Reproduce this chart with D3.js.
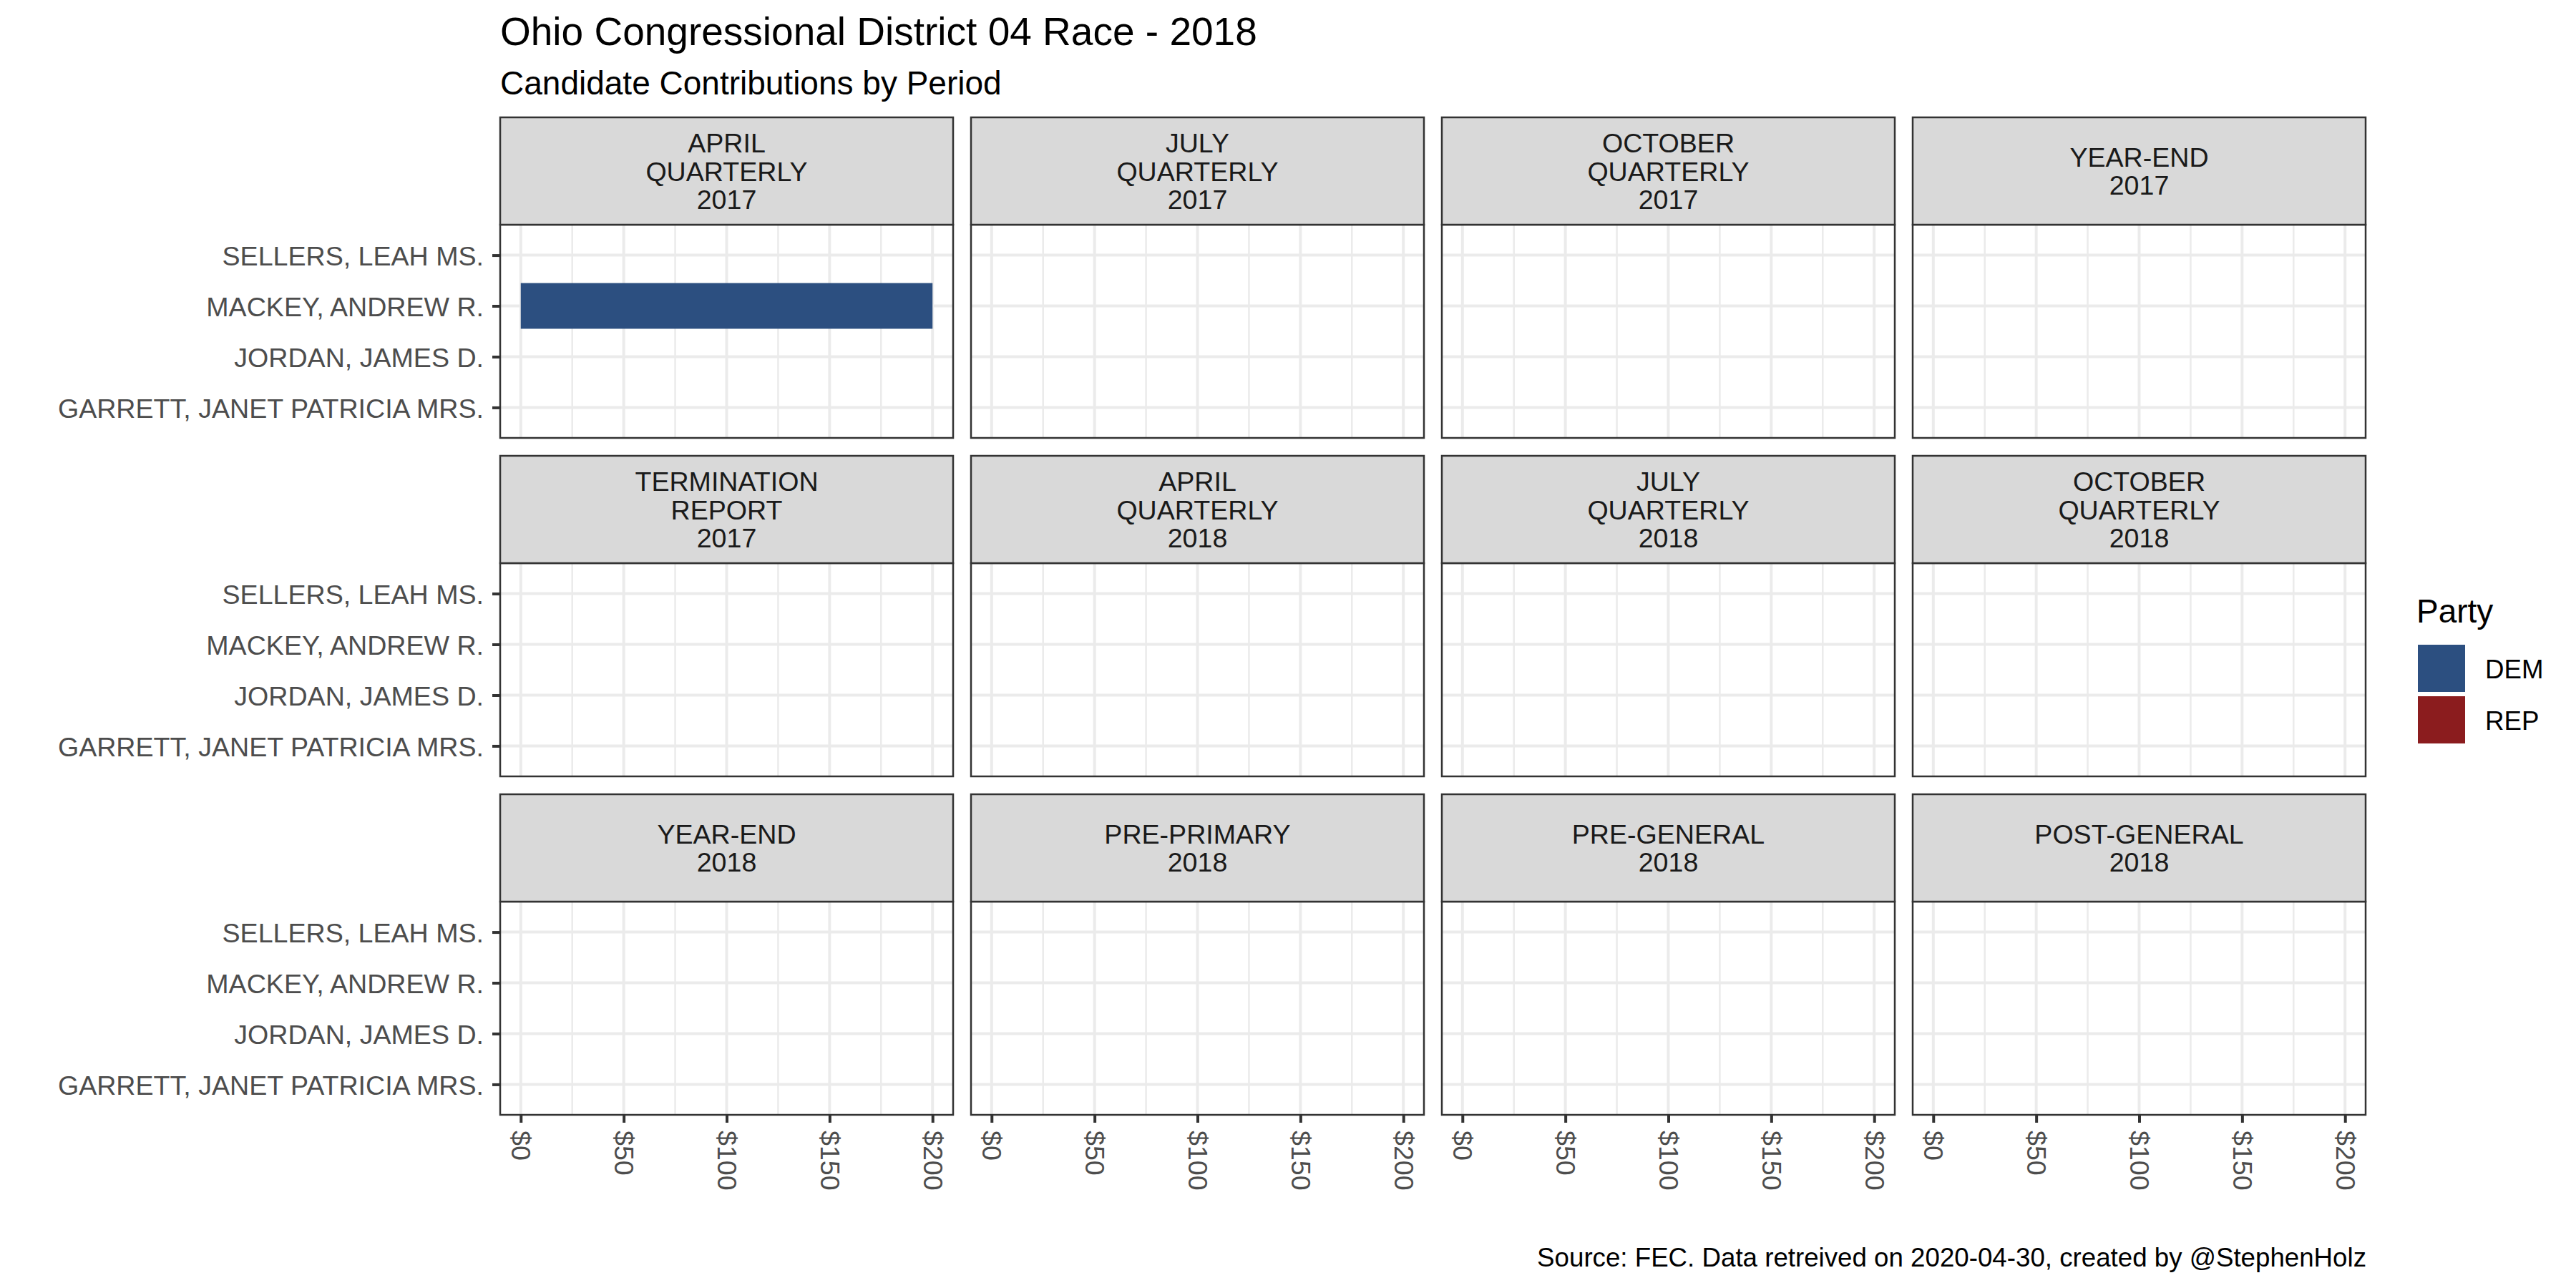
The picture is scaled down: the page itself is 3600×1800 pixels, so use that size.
<!DOCTYPE html>
<html>
<head>
<meta charset="utf-8">
<script src="https://cdn.jsdelivr.net/npm/d3@7"></script>
<style>
  body { margin: 0; background: #fff; }
  text { font-family: "Liberation Sans", Arial, sans-serif; }
</style>
</head>
<body>
<script>
// Filing periods, in facet order (strip labels are wrapped)
const periods = [
  "APRIL\nQUARTERLY\n2017", "JULY\nQUARTERLY\n2017", "OCTOBER\nQUARTERLY\n2017", "YEAR-END\n2017",
  "TERMINATION\nREPORT\n2017", "APRIL\nQUARTERLY\n2018", "JULY\nQUARTERLY\n2018", "OCTOBER\nQUARTERLY\n2018",
  "YEAR-END\n2018", "PRE-PRIMARY\n2018", "PRE-GENERAL\n2018", "POST-GENERAL\n2018"
];

// Candidates, bottom to top
const candidates = ["GARRETT, JANET PATRICIA MRS.", "JORDAN, JAMES D.", "MACKEY, ANDREW R.", "SELLERS, LEAH MS."];
const candidateParty = ["DEM", "REP", "DEM", "DEM"];

// Contributions per candidate, one value per period
const garrettAmounts = [0, 0, 0, 0, 0, 0, 0, 0, 0, 0, 0, 0];
const jordanAmounts  = [0, 0, 0, 0, 0, 0, 0, 0, 0, 0, 0, 0];
const mackeyAmounts  = [200, 0, 0, 0, 0, 0, 0, 0, 0, 0, 0, 0];
const sellersAmounts = [0, 0, 0, 0, 0, 0, 0, 0, 0, 0, 0, 0];
const amounts = [garrettAmounts, jordanAmounts, mackeyAmounts, sellersAmounts];

const parties = ["DEM", "REP"];
const partyColors = ["#2C4F80", "#8B1C1E"];

const xTicks = [0, 50, 100, 150, 200];
const xMinor = [25, 75, 125, 175];

// Layout
const col0 = 699, colW = 633, colStep = 658;
const row0 = 164, stripH = 150, panelH = 298, rowStep = 473;
const grid = "#EBEBEB", dark = "#333333";
const axisFont = 37.6;

const svg = d3.select("body")
  .append("svg")
  .attr("width", 3600)
  .attr("height", 1800);

svg.append("rect").attr("width", 3600).attr("height", 1800).attr("fill", "#fff");

// Scales (same for every facet)
const xMax = d3.max(amounts.flat());
const x = d3.scaleLinear()
  .domain([-0.05 * xMax, 1.05 * xMax])
  .range([0, colW]);

const y = d3.scalePoint()
  .domain(candidates)
  .range([panelH, 0])
  .padding(0.6);
const barH = y.step() * 0.9;

const color = d3.scaleOrdinal().domain(parties).range(partyColors);

// Titles
svg.append("text")
  .attr("x", 699).attr("y", 63)
  .attr("font-size", 55)
  .text("Ohio Congressional District 04 Race - 2018");

svg.append("text")
  .attr("x", 699).attr("y", 132)
  .attr("font-size", 46)
  .text("Candidate Contributions by Period");

periods.forEach((period, i) => {
  const col = i % 4, row = Math.floor(i / 4);
  const gx = col0 + col * colStep;
  const gy = row0 + row * rowStep;

  // Panel
  const g = svg.append("g").attr("transform", `translate(${gx},${gy + stripH})`);
  g.append("rect").attr("width", colW).attr("height", panelH).attr("fill", "#fff");

  g.selectAll(".minor").data(xMinor).enter().append("line")
    .attr("x1", d => x(d)).attr("x2", d => x(d))
    .attr("y1", 0).attr("y2", panelH)
    .attr("stroke", grid).attr("stroke-width", 2.5);

  g.selectAll(".vmajor").data(xTicks).enter().append("line")
    .attr("x1", d => x(d)).attr("x2", d => x(d))
    .attr("y1", 0).attr("y2", panelH)
    .attr("stroke", grid).attr("stroke-width", 4);

  g.selectAll(".hmajor").data(candidates).enter().append("line")
    .attr("x1", 0).attr("x2", colW)
    .attr("y1", d => y(d)).attr("y2", d => y(d))
    .attr("stroke", grid).attr("stroke-width", 4);

  // Bars
  const bars = candidates.map((c, k) => ({ cand: c, party: candidateParty[k], value: amounts[k][i] }))
    .filter(d => d.value > 0);
  g.selectAll(".bar").data(bars).enter().append("rect")
    .attr("x", x(0))
    .attr("width", d => x(d.value) - x(0))
    .attr("y", d => y(d.cand) - barH / 2)
    .attr("height", barH)
    .attr("fill", d => color(d.party));

  g.append("rect").attr("width", colW).attr("height", panelH)
    .attr("fill", "none").attr("stroke", dark).attr("stroke-width", 2.5);

  // Y axis on first column
  if (col === 0) {
    const ay = g.append("g")
      .call(d3.axisLeft(y).tickSize(11).tickPadding(12));
    ay.select(".domain").remove();
    ay.selectAll(".tick line").attr("stroke", dark).attr("stroke-width", 4);
    ay.selectAll(".tick text")
      .attr("fill", "#4D4D4D")
      .attr("font-size", axisFont)
      .attr("font-family", "Liberation Sans, Arial, sans-serif")
      .attr("dy", "0.37em");
  }

  // X axis on bottom row
  if (row === 2) {
    const ax = g.append("g")
      .attr("transform", `translate(0,${panelH})`)
      .call(d3.axisBottom(x).tickValues(xTicks).tickSize(11).tickFormat(d => "$" + d));
    ax.select(".domain").remove();
    ax.selectAll(".tick line").attr("stroke", dark).attr("stroke-width", 4);
    ax.selectAll(".tick text")
      .attr("x", 0).attr("y", 0)
      .attr("dy", "0.35em")
      .attr("transform", "translate(0,22) rotate(90)")
      .attr("text-anchor", "start")
      .attr("fill", "#4D4D4D")
      .attr("font-size", axisFont)
      .attr("font-family", "Liberation Sans, Arial, sans-serif");
  }

  // Strip
  svg.append("rect")
    .attr("x", gx).attr("y", gy)
    .attr("width", colW).attr("height", stripH)
    .attr("fill", "#D9D9D9").attr("stroke", dark).attr("stroke-width", 2.5);

  const lines = period.split("\n");
  const lineH = 39.6;
  const firstBase = gy + stripH / 2 - (lines.length - 1) / 2 * lineH + 13.5;
  svg.append("text")
    .attr("text-anchor", "middle")
    .attr("font-size", axisFont)
    .attr("fill", "#1A1A1A")
    .selectAll("tspan").data(lines).enter().append("tspan")
    .attr("x", gx + colW / 2)
    .attr("y", (d, k) => firstBase + k * lineH)
    .text(d => d);
});

// Legend
const legend = svg.append("g");
legend.append("text")
  .attr("x", 3377).attr("y", 870)
  .attr("font-size", 46)
  .text("Party");

parties.forEach((p, i) => {
  const ky = 901 + i * 72;
  legend.append("rect")
    .attr("x", 3379).attr("y", ky)
    .attr("width", 66).attr("height", 66)
    .attr("fill", color(p));
  legend.append("text")
    .attr("x", 3473).attr("y", ky + 33 + 13.5)
    .attr("font-size", 36.7)
    .text(p);
});

// Caption
svg.append("text")
  .attr("x", 3307).attr("y", 1770)
  .attr("text-anchor", "end")
  .attr("font-size", 36.7)
  .text("Source: FEC. Data retreived on 2020-04-30, created by @StephenHolz");
</script>
</body>
</html>
